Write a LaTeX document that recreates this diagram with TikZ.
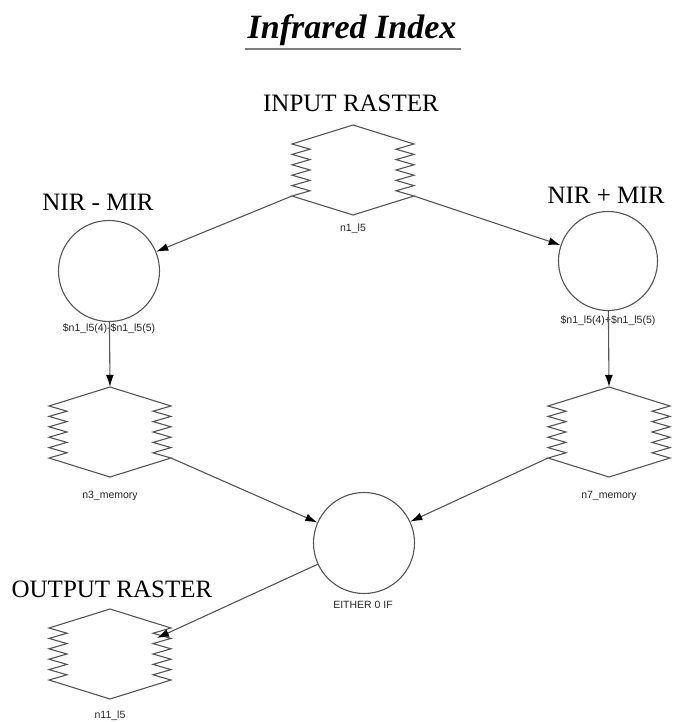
\documentclass[tikz,border=0pt]{standalone}
\usepackage{fontspec}
\setmainfont{Liberation Serif}
\newfontfamily\arialf{Liberation Sans}
\usetikzlibrary{arrows.meta,calc}
\definecolor{linegray}{HTML}{555555}
\begin{document}
\begin{tikzpicture}[x=1pt,y=-1pt,
  biglabel/.style={inner sep=0pt, anchor=base, font=\fontsize{25}{30}\selectfont},
  titlelabel/.style={inner sep=0pt, anchor=base, font=\fontsize{34}{40}\selectfont\bfseries\itshape},
  smalllabel/.style={inner sep=0pt, font=\arialf\fontsize{10.5}{12}\selectfont, text=black!85},
  rasterbox/.style={draw=none, minimum width=122pt, minimum height=90pt, inner sep=0pt},
  rasterline/.style={draw=linegray, line width=1.1pt, line join=miter},
  opcircle/.style={circle, draw=linegray, line width=1.1pt, minimum size=101pt, inner sep=0pt},
  conn/.style={draw=linegray, line width=1.1pt, -{Latex[length=12pt,width=8pt,color=black]}}]
\useasboundingbox (0,0) rectangle (673,722);

% title
\node[titlelabel] (title) at (352,39) {Infrared Index};
\draw[draw=gray, line width=2pt] ($(title.base west)+(-2,10)$) -- ($(title.base east)+(4,10)$);

% raster nodes
\node[rasterbox] (n1) at (353,170) {};
\node[rasterbox] (n3) at (110,432) {};
\node[rasterbox] (n7) at (609,432) {};
\node[rasterbox] (n11) at (110,654) {};
\foreach \n in {n1,n3,n7,n11}{
  \draw[rasterline, shift={(\n.center)}] (0,-45) -- (61,-26)
    \foreach \k in {1,...,10}{ -- ({61-18*mod(\k,2)},{-26+5.2*\k}) }
    -- (0,45) -- (-61,26)
    \foreach \k in {1,...,10}{ -- ({-61+18*mod(\k,2)},{26-5.2*\k}) }
    -- cycle;
}

% operation circles
\node[opcircle] (c1) at (109,271) {};
\node[opcircle, minimum size=99pt] (c2) at (608,261) {};
\node[opcircle] (c3) at (364,543) {};

% big labels
\node[biglabel] (lin) at (351,112) {INPUT RASTER};
\node[biglabel] (lminus) at (98,210) {NIR - MIR};
\node[biglabel] (lplus) at (606,203) {NIR + MIR};
\node[biglabel] (lout) at (112,597) {OUTPUT RASTER};

% small labels
\node[smalllabel] (n1lab) at (353,229) {n1\_l5};
\node[smalllabel] (c1lab) at (109,329) {\$n1\_l5(4)-\$n1\_l5(5)};
\node[smalllabel] (c2lab) at (608,321) {\$n1\_l5(4)+\$n1\_l5(5)};
\node[smalllabel] (n3lab) at (110,496) {n3\_memory};
\node[smalllabel] (n7lab) at (609,496) {n7\_memory};
\node[smalllabel] (c3lab) at (363,605) {EITHER 0 IF};
\node[smalllabel] (n11lab) at (110,716) {n11\_l5};

% connector end points
\coordinate (n1sw) at ($(n1.center)+(-61,26)$);
\coordinate (n1se) at ($(n1.center)+(61,26)$);
\coordinate (n3se) at ($(n3.center)+(61,26)$);
\coordinate (n7sw) at ($(n7.center)+(-61,26)$);
\coordinate (n11in) at ($(n11.center)+(47,-16)$);

% connectors
\draw[conn] (n1sw) -- (c1);
\draw[conn] (n1se) -- (c2);
\draw[conn] (c1) -- (n3.north);
\draw[conn] (c2) -- (n7.north);
\draw[conn] (n3se) -- (c3);
\draw[conn] (n7sw) -- (c3);
\draw[conn] (c3) -- (n11in);
\end{tikzpicture}
\end{document}
